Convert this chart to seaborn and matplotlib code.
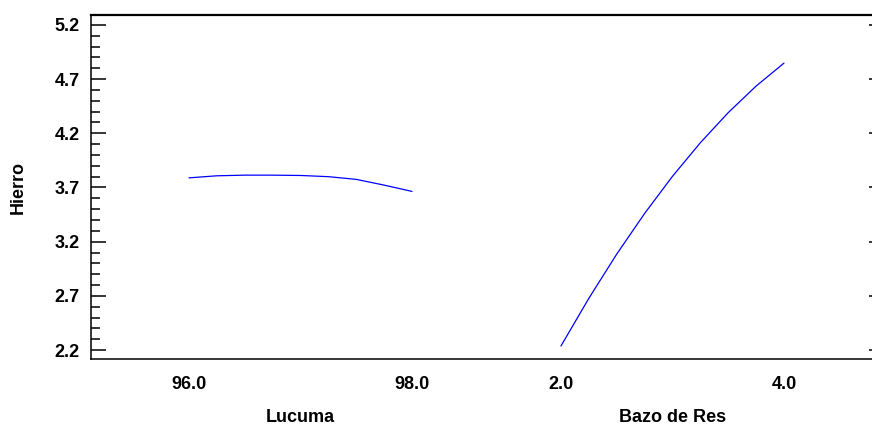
import numpy as np
import pandas as pd
import matplotlib
matplotlib.use("Agg")
import matplotlib.pyplot as plt
import matplotlib.transforms as mtransforms
from matplotlib.ticker import MultipleLocator
import seaborn as sns

# Main effects for Hierro
lucuma_levels = [96.0, 96.25, 96.5, 96.75, 97.0, 97.25, 97.5, 97.75, 98.0]
lucuma_hierro = [3.789, 3.808, 3.814, 3.814, 3.811, 3.800, 3.775, 3.722, 3.664]

bazo_levels = [2.0, 2.25, 2.5, 2.75, 3.0, 3.25, 3.5, 3.75, 4.0]
bazo_hierro = [2.237, 2.677, 3.085, 3.460, 3.803, 4.113, 4.391, 4.636, 4.848]

factor_names = ["Lucuma", "Bazo de Res"]
factor_ticks = [[96.0, 98.0], [2.0, 4.0]]
y_label = "Hierro"
y_ticks = [2.2, 2.7, 3.2, 3.7, 4.2, 4.7, 5.2]

sns.set_theme(style="white")
plt.rcParams["font.family"] = ["Liberation Sans", "DejaVu Sans"]
plt.rcParams["font.weight"] = "bold"
for key in ("text.color", "axes.labelcolor", "xtick.color", "ytick.color"):
    plt.rcParams[key] = "black"

FS = 13

# each factor occupies its own span on a shared horizontal axis
gap = 3.336
lo = [min(lucuma_levels), min(bazo_levels)]
offsets = [0.0, gap]

frames = []
for name, levels, resp, base, off in zip(factor_names,
                                         [lucuma_levels, bazo_levels],
                                         [lucuma_hierro, bazo_hierro],
                                         lo, offsets):
    frames.append(pd.DataFrame({
        "factor": name,
        "pos": [off + (v - base) for v in levels],
        "Hierro": resp,
    }))
df = pd.concat(frames, ignore_index=True)

W, H = 872, 426
fig = plt.figure(figsize=(W / 100, H / 100), dpi=100)
ax = fig.add_axes([91 / W, 1 - 359 / H, (884 - 91) / W, (359 - 15) / H])

sns.lineplot(data=df, x="pos", y="Hierro", units="factor", estimator=None,
             color="#0000FF", linewidth=0.9, ax=ax, sort=False)

ax.set_xlim((91 - 189) / 111.5, (884 - 189) / 111.5)
ax.set_ylim(2.2 - 9 / 108.4, 5.2 + 10 / 108.4)

ax.set_yticks(y_ticks)
ax.set_yticklabels([f"{v:.1f}" for v in y_ticks])
ax.yaxis.set_minor_locator(MultipleLocator(0.1))

xt, xl = [], []
for ticks, base, off in zip(factor_ticks, lo, offsets):
    for t in ticks:
        xt.append(off + (t - base))
        xl.append(f"{t:.1f}")
ax.set_xticks(xt)
ax.set_xticklabels(xl)

ax.tick_params(axis="x", length=0, pad=12, labelsize=FS)
ax.tick_params(axis="y", which="major", direction="in", length=10.8, width=1.1,
               color="black", left=True, right=True, pad=8, labelsize=FS)
ax.tick_params(axis="y", which="minor", direction="in", length=6.5, width=1.1,
               color="black", left=True, right=False)
for lab in ax.get_xticklabels() + ax.get_yticklabels():
    lab.set_fontweight("bold")

for side, sp in ax.spines.items():
    sp.set_color("black")
    sp.set_linewidth(1.1)
ax.spines["top"].set_linewidth(1.6)

ax.set_xlabel("")
ax.set_ylabel("")
fig.text(18 / W, 1 - 187 / H, y_label, rotation=90, ha="center", va="center",
         fontsize=FS, fontweight="bold")

trans = mtransforms.blended_transform_factory(ax.transData, fig.transFigure)
for name, base, off, ticks in zip(factor_names, lo, offsets, factor_ticks):
    centre = off + (np.mean(ticks) - base)
    ax.text(centre, 1 - 418 / H, name, transform=trans, ha="center", va="center",
            fontsize=FS, fontweight="bold")

fig.savefig("out.png", dpi=100)
